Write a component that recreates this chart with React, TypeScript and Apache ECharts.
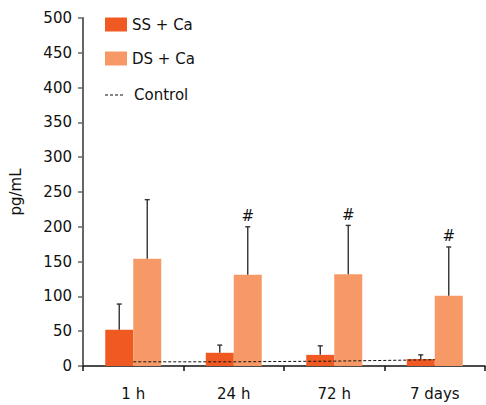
import React, { useEffect, useRef } from "react";
import * as echarts from "echarts";

// Time points and measured concentrations (pg/mL)
const categories = ["1 h", "24 h", "72 h", "7 days"];
const ssMean = [52, 19, 16, 10];
const ssUpper = [89, 30, 29, 16];
const dsMean = [154, 131, 132, 101];
const dsUpper = [239, 200, 202, 171];
const dsSignificant = [false, true, true, true];
const controlValues = [6, 6, 7, 9];
const yTicks = { min: 0, max: 500, interval: 50 };

const SS_COLOR = "#f05a22";
const DS_COLOR = "#f69966";
const BAR_WIDTH = 28;
const FONT = "DejaVu Sans";

function errorBarSeries(name: string, means: number[], uppers: number[], flags: boolean[] | null, offset: number) {
  return {
    type: "custom",
    name,
    z: 5,
    data: means.map((m, i) => [i, m, uppers[i], flags && flags[i] ? 1 : 0]),
    renderItem: (params: any, api: any) => {
      const idx = api.value(0);
      const base = api.coord([idx, api.value(1)]);
      const top = api.coord([idx, api.value(2)]);
      const x = base[0] + offset;
      const style = { stroke: "#333333", lineWidth: 1.4 };
      const children: any[] = [
        { type: "line", shape: { x1: x, y1: base[1], x2: x, y2: top[1] }, style },
        { type: "line", shape: { x1: x - 2.5, y1: top[1], x2: x + 2.5, y2: top[1] }, style },
      ];
      if (api.value(3)) {
        children.push({
          type: "text",
          style: {
            text: "#",
            x,
            y: top[1] - 3,
            align: "center",
            verticalAlign: "bottom",
            fontSize: 15,
            fontFamily: FONT,
            fill: "#111",
          },
        });
      }
      return { type: "group", children };
    },
  };
}

export default function App() {
  const ref = useRef<HTMLDivElement>(null);

  useEffect(() => {
    const chart = echarts.init(ref.current!, null, { renderer: "svg" });
    chart.setOption({
      animation: false,
      textStyle: { fontFamily: FONT },
      grid: { left: 83, right: 1, top: 18, bottom: 39, containLabel: false },
      legend: {
        orient: "vertical",
        left: 100,
        top: 12,
        itemWidth: 22,
        itemHeight: 14,
        itemGap: 19,
        data: [
          { name: "SS + Ca", icon: "rect" },
          { name: "DS + Ca", icon: "rect" },
        ],
        textStyle: { fontSize: 15, color: "#111", fontFamily: FONT },
      },
      // Legend entry for the dashed control line
      graphic: [
        {
          type: "line",
          shape: { x1: 105, y1: 95, x2: 125, y2: 95 },
          style: { stroke: "#111", lineWidth: 1, lineDash: [3, 2] },
        },
        {
          type: "text",
          style: {
            text: "Control",
            x: 134,
            y: 95,
            verticalAlign: "middle",
            fontSize: 15,
            fontFamily: FONT,
            fill: "#111",
          },
        },
      ],
      xAxis: {
        type: "category",
        data: categories,
        axisLine: { lineStyle: { color: "#111", width: 1.5 } },
        axisTick: { show: true, length: 5, lineStyle: { color: "#111", width: 1.5 } },
        axisLabel: { color: "#111", fontSize: 15, margin: 20, fontFamily: FONT },
      },
      yAxis: {
        type: "value",
        min: yTicks.min,
        max: yTicks.max,
        interval: yTicks.interval,
        name: "pg/mL",
        nameLocation: "middle",
        nameRotate: 90,
        nameGap: 60,
        nameTextStyle: { fontSize: 15, color: "#111", fontFamily: FONT },
        axisLine: { show: true, lineStyle: { color: "#666", width: 2 } },
        axisTick: { show: true, length: 5, lineStyle: { color: "#666", width: 1.5 } },
        axisLabel: { color: "#111", fontSize: 15, margin: 11, fontFamily: FONT },
        splitLine: { show: false },
      },
      series: [
        {
          type: "bar",
          name: "SS + Ca",
          data: ssMean,
          barWidth: BAR_WIDTH,
          barGap: "0%",
          itemStyle: { color: SS_COLOR },
          z: 2,
        },
        {
          type: "bar",
          name: "DS + Ca",
          data: dsMean,
          barWidth: BAR_WIDTH,
          barGap: "0%",
          itemStyle: { color: DS_COLOR },
          z: 2,
        },
        errorBarSeries("SS err", ssMean, ssUpper, null, -BAR_WIDTH / 2),
        errorBarSeries("DS err", dsMean, dsUpper, dsSignificant, BAR_WIDTH / 2),
        {
          type: "line",
          name: "Control",
          data: controlValues,
          symbol: "none",
          z: 6,
          lineStyle: { color: "#111", width: 1, type: [3, 2] },
          itemStyle: { color: "#111" },
        },
      ],
    });
    return () => chart.dispose();
  }, []);

  return <div ref={ref} style={{ width: 486, height: 405, position: "absolute", left: 0, top: 0 }} />;
}
